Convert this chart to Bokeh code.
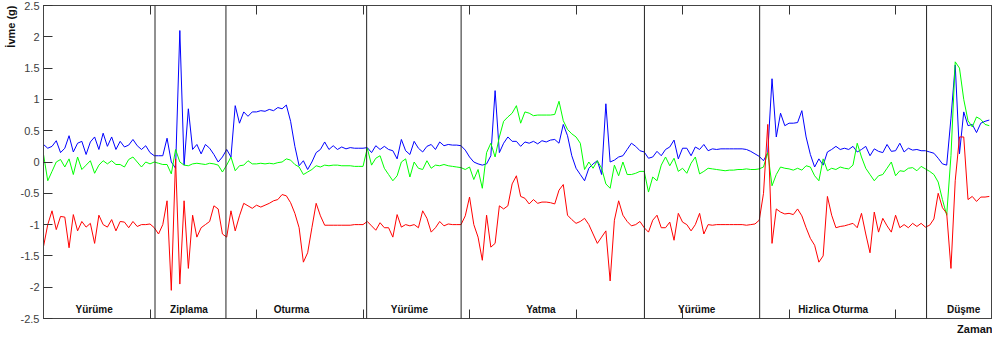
from bokeh.plotting import figure
from bokeh.models import Range1d, FixedTicker, LinearAxis, Title, Span, NumeralTickFormatter
from bokeh.core.properties import value
from bokeh.embed import file_html
from bokeh.resources import INLINE

# sample index (time)
t = list(range(0, 889, 4))

blue = [
    0.28, 0.22, 0.25, 0.34, 0.15, 0.22, 0.42, 0.16, 0.30, 0.33,
    0.12, 0.32, 0.40, 0.20, 0.46, 0.25, 0.40, 0.20, 0.33, 0.24,
    0.27, 0.36, 0.26, 0.20, 0.26, 0.15, 0.10, 0.10, 0.10, 0.38,
    0.00, -0.10, 2.10, -0.05, 0.85, 0.20, 0.28, 0.13, 0.28, 0.22,
    0.12, 0.00, 0.08, 0.20, 0.08, 0.90, 0.62, 0.80, 0.73, 0.80,
    0.80, 0.82, 0.81, 0.84, 0.82, 0.87, 0.85, 0.91, 0.65, 0.25,
    -0.06, 0.02, -0.12, 0.00, 0.15, 0.20, 0.32, 0.20, 0.26, 0.20,
    0.24, 0.21, 0.23, 0.22, 0.22, 0.22, 0.23, 0.15, 0.26, 0.20,
    0.25, 0.20, 0.18, 0.05, 0.36, 0.18, 0.12, 0.33, 0.22, 0.16,
    0.25, 0.28, 0.20, 0.32, 0.26, 0.28, 0.27, 0.27, 0.26, 0.19,
    0.08, 0.00, -0.03, -0.05, -0.03, 0.10, 1.14, 0.15, 0.30, 0.40,
    0.33, 0.33, 0.25, 0.32, 0.30, 0.33, 0.29, 0.34, 0.32, 0.35,
    0.36, 0.30, 0.60, 0.42, 0.10, -0.10, -0.20, -0.30, -0.10, -0.03,
    0.02, -0.20, 0.93, 0.00, 0.03, 0.08, 0.10, 0.20, 0.30, 0.25,
    0.18, 0.16, 0.06, 0.08, 0.17, 0.10, 0.20, 0.24, 0.35, 0.05,
    0.22, 0.22, 0.10, 0.24, 0.20, 0.28, 0.18, 0.21, 0.20, 0.21,
    0.21, 0.21, 0.21, 0.21, 0.21, 0.20, 0.17, 0.13, 0.09, 0.02,
    0.15, 1.33, 0.40, 0.78, 0.58, 0.62, 0.62, 0.63, 0.82, 0.40,
    0.12, -0.08, 0.05, -0.05, 0.16, 0.20, 0.25, 0.20, 0.22, 0.20,
    0.25, 0.16, 0.20, 0.25, 0.10, 0.21, 0.17, 0.15, 0.28, 0.17,
    0.18, 0.30, 0.16, 0.22, 0.19, 0.20, 0.18, 0.18, 0.16, 0.14,
    0.06, -0.03, -0.05, 0.70, 1.55, 0.13, 0.80, 0.58, 0.60, 0.47,
    0.62, 0.65, 0.67,
]

green = [
    0.12, -0.30, -0.15, 0.00, 0.04, -0.08, 0.05, -0.20, 0.08, -0.12,
    -0.05, 0.02, -0.18, -0.05, 0.02, -0.03, 0.02, -0.04, -0.04, -0.08,
    0.04, 0.08, 0.00, -0.08, 0.00, -0.03, 0.00, -0.02, -0.04, -0.04,
    -0.19, 0.20, 0.00, -0.05, -0.06, -0.03, -0.02, -0.03, -0.04, -0.02,
    -0.03, -0.05, -0.16, -0.05, 0.08, -0.14, -0.06, -0.05, 0.02, -0.03,
    -0.03, -0.02, -0.03, -0.02, -0.03, -0.01, 0.00, 0.05, 0.03, -0.04,
    -0.08, -0.20, -0.16, -0.12, -0.06, -0.08, -0.05, -0.06, -0.05, -0.05,
    -0.06, -0.06, -0.06, -0.07, -0.07, -0.07, 0.22, -0.05, 0.06, 0.10,
    -0.10, -0.20, -0.30, -0.22, 0.00, 0.05, -0.24, 0.00, -0.10, -0.12,
    0.02, -0.10, -0.05, -0.06, -0.04, -0.06, -0.07, -0.08, -0.09, -0.12,
    -0.08, -0.28, -0.12, -0.42, 0.15, 0.30, 0.08, 0.40, 0.65, 0.72,
    0.78, 0.90, 0.62, 0.80, 0.78, 0.74, 0.75, 0.75, 0.75, 0.75,
    0.76, 0.97, 0.66, 0.52, 0.45, 0.40, 0.30, -0.12, 0.00, -0.10,
    0.02, -0.10, -0.35, -0.42, -0.05, -0.22, 0.00, -0.20, -0.20, -0.18,
    -0.15, -0.15, -0.48, -0.24, -0.30, -0.05, 0.08, -0.06, 0.06, -0.15,
    -0.10, -0.18, -0.02, 0.08, -0.19, -0.15, -0.10, -0.11, -0.12, -0.13,
    -0.14, -0.13, -0.13, -0.12, -0.12, -0.11, -0.12, -0.12, -0.11, -0.08,
    0.15, -0.38, -0.20, -0.08, -0.10, -0.11, -0.13, -0.10, -0.13, -0.06,
    -0.08, -0.22, -0.30, 0.05, -0.14, -0.10, -0.12, -0.08, -0.10, -0.11,
    -0.05, 0.30, 0.08, -0.10, -0.20, -0.30, -0.22, -0.20, -0.10, 0.00,
    -0.22, -0.14, -0.15, -0.10, -0.09, -0.14, -0.07, -0.11, -0.15, -0.20,
    -0.32, -0.60, -0.85, 0.10, 1.60, 1.50, 1.00, 0.66, 0.56, 0.72,
    0.68, 0.60, 0.58,
]

red = [
    -1.35, -1.00, -0.78, -1.08, -0.87, -0.88, -1.37, -0.84, -1.10, -0.95,
    -1.04, -0.98, -1.30, -0.85, -1.00, -1.04, -0.92, -1.10, -0.95, -0.96,
    -1.05, -0.95, -1.03, -1.00, -1.00, -0.99, -1.05, -1.15, -1.00, -0.62,
    -2.05, 0.05, -1.95, -0.62, -1.70, -0.85, -1.20, -1.05, -1.00, -0.95,
    -0.70, -0.75, -1.15, -1.20, -0.78, -1.10, -0.86, -0.66, -0.70, -0.74,
    -0.69, -0.72, -0.69, -0.66, -0.62, -0.60, -0.52, -0.54, -0.65, -0.82,
    -1.05, -1.60, -1.45, -1.05, -0.66, -0.86, -1.01, -1.01, -1.01, -1.01,
    -1.01, -1.01, -1.01, -1.00, -1.00, -1.00, -0.95, -1.02, -1.09, -0.97,
    -1.05, -1.05, -1.20, -0.84, -1.04, -1.00, -1.02, -1.00, -1.05, -0.78,
    -0.90, -1.12, -1.05, -0.95, -1.02, -0.99, -1.00, -1.00, -1.00, -0.86,
    -0.56, -1.00, -1.20, -1.57, -0.85, -1.36, -1.30, -0.70, -0.75, -0.70,
    -0.35, -0.22, -0.55, -0.58, -0.67, -0.60, -0.66, -0.64, -0.64, -0.65,
    -0.67, -0.45, -0.36, -0.85, -0.92, -0.98, -0.95, -0.90, -1.00, -1.15,
    -1.30, -1.20, -1.10, -1.90, -0.93, -0.62, -0.85, -0.95, -1.02, -1.00,
    -0.95, -1.05, -1.12, -0.93, -0.85, -1.05, -1.05, -0.96, -1.25, -0.82,
    -0.96, -1.00, -1.10, -1.00, -0.82, -1.15, -1.00, -1.01, -1.00, -1.00,
    -1.00, -1.00, -1.00, -1.00, -1.00, -1.01, -1.00, -0.99, -0.93, -0.50,
    0.60, -1.30, -0.75, -0.80, -0.83, -0.82, -0.84, -0.75, -0.86, -1.05,
    -1.22, -1.33, -1.60, -1.50, -0.55, -0.85, -1.05, -1.03, -1.02, -1.00,
    -0.98, -1.05, -0.82, -1.15, -1.45, -0.80, -1.12, -0.90, -1.02, -1.12,
    -0.85, -1.05, -1.00, -1.05, -0.98, -1.03, -0.98, -1.04, -1.01, -0.91,
    -0.50, -0.73, -0.82, -1.70, -0.30, 0.40, 0.40, -0.60, -0.55, -0.63,
    -0.56, -0.56, -0.55,
]

# activity boundaries (sample index) and labels
boundaries = [104.7, 171.3, 303.4, 392.1, 564.2, 672.4, 829.1]
activity_names = ["Yürüme", "Ziplama", "Oturma", "Yürüme", "Yatma",
                  "Yürüme", "Hizlica Oturma", "Düşme"]
activity_centers = [47.5, 136.6, 232.8, 343.5, 467.0, 613.3, 741.4, 863.9]

y_ticks = [-2.5, -2.0, -1.5, -1.0, -0.5, 0.0, 0.5, 1.0, 1.5, 2.0, 2.5]
x_ticks = [0, 100, 200, 300, 400, 500, 600, 700, 800, 900]

FONT = "Liberation Sans"

p = figure(width=992, height=342, title=None,
           x_range=Range1d(0, 891), y_range=Range1d(-2.5, 2.5),
           output_backend="svg", toolbar_location=None,
           min_border_left=43, min_border_right=0,
           min_border_top=5, min_border_bottom=24)
p.xgrid.visible = False
p.ygrid.visible = False
p.outline_line_color = "#444444"
p.background_fill_color = "white"
p.border_fill_color = "white"

# y axis
ya = p.yaxis[0]
ya.ticker = FixedTicker(ticks=y_ticks)
ya.formatter = NumeralTickFormatter(format="0.[0]")
ya.major_tick_in = 9
ya.major_tick_out = 0
ya.minor_tick_line_color = None
ya.axis_line_color = "#444444"
ya.major_tick_line_color = "#333333"
ya.major_label_text_font = FONT
ya.major_label_text_font_size = "11px"
ya.major_label_text_color = "#404040"
ya.major_label_standoff = 4

def style_x(ax):
    ax.ticker = FixedTicker(ticks=x_ticks)
    ax.major_tick_in = 9
    ax.major_tick_out = 0
    ax.minor_tick_line_color = None
    ax.axis_line_color = "#444444"
    ax.major_tick_line_color = "#333333"
    ax.major_label_text_color = None
    ax.major_label_text_font_size = "1px"
    ax.major_label_standoff = 0

style_x(p.xaxis[0])
top_axis = LinearAxis()
style_x(top_axis)
p.add_layout(top_axis, "above")

p.add_layout(Title(text="İvme (g)", align="right", text_font=FONT,
                   text_font_size="11px", text_font_style="bold",
                   text_color="#111111", standoff=2), "left")
p.add_layout(Title(text="Zaman", align="right", text_font=FONT,
                   text_font_size="11px", text_font_style="bold",
                   text_color="#111111", standoff=4), "below")

p.line(t[:len(blue)], blue, line_color="#0000ff", line_width=1)
p.line(t[:len(green)], green, line_color="#00ff00", line_width=1)
p.line(t[:len(red)], red, line_color="#ff0000", line_width=1)

for b in boundaries:
    p.add_layout(Span(location=b, dimension="height",
                      line_color="#222222", line_width=1))

p.text(x=activity_centers, y=[-2.36] * len(activity_centers), text=activity_names,
       text_font=value(FONT), text_font_size="10px", text_font_style="bold",
       text_align="center", text_baseline="middle", text_color="#111111")

open("out.html", "w").write(file_html(p, INLINE))
